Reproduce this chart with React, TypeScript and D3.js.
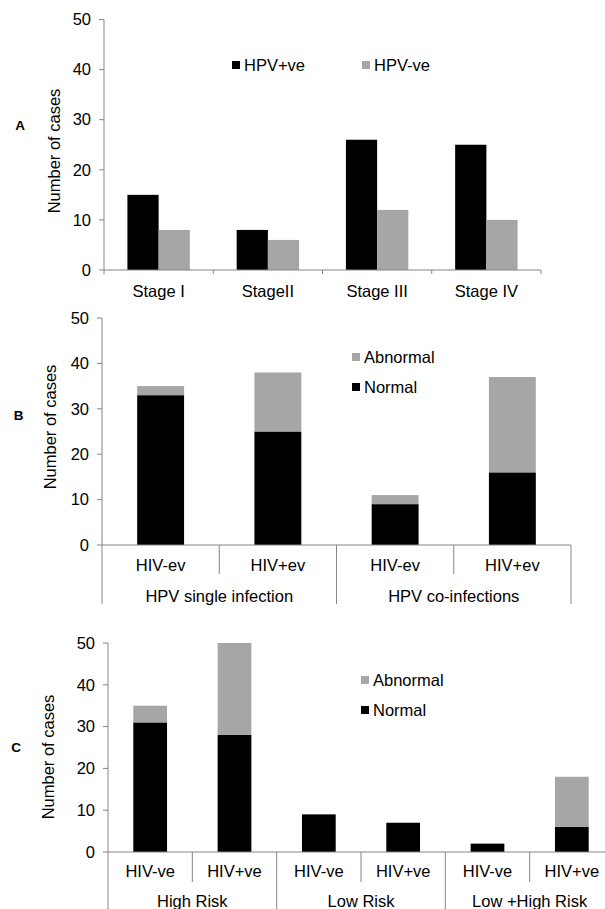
import React from 'react';
import * as d3 from 'd3';

// Panel A: HPV status by stage
const stageCats = ['Stage I', 'StageII', 'Stage III', 'Stage IV'];
const hpvPos = [15, 8, 26, 25];
const hpvNeg = [8, 6, 12, 10];

// Panel B: HIV status within infection type
const hivCatsB = ['HIV-ev', 'HIV+ev', 'HIV-ev', 'HIV+ev'];
const infectionGroups = ['HPV single infection', 'HPV co-infections'];
const normalB = [33, 25, 9, 16];
const abnormalB = [2, 13, 2, 21];

// Panel C: HIV status within HPV risk type
const hivCatsC = ['HIV-ve', 'HIV+ve', 'HIV-ve', 'HIV+ve', 'HIV-ve', 'HIV+ve'];
const riskGroups = ['High Risk', 'Low Risk', 'Low +High Risk'];
const normalC = [31, 28, 9, 7, 2, 6];
const abnormalC = [4, 22, 0, 0, 0, 12];

const yTicks = [0, 10, 20, 30, 40, 50];

const FONT = '"Liberation Sans", Arial, sans-serif';
const FS = 16.5;
const AXIS = '#868686';
const BLACK = '#000000';
const GREY = '#a6a6a6';

type Frame = { x0: number; x1: number; yTop: number; yBot: number };

function YAxis({ f, y }: { f: Frame; y: d3.ScaleLinear<number, number> }) {
  return (
    <g>
      <line x1={f.x0} x2={f.x0} y1={f.yTop} y2={f.yBot} stroke={AXIS} />
      {yTicks.map(t => (
        <g key={t}>
          <line x1={f.x0 - 5} x2={f.x0} y1={y(t)} y2={y(t)} stroke={AXIS} />
          <text x={f.x0 - 13} y={y(t)} dy="0.35em" textAnchor="end" fontSize={FS}>
            {t}
          </text>
        </g>
      ))}
    </g>
  );
}

function YTitle({ x, cy }: { x: number; cy: number }) {
  return (
    <text transform={`translate(${x},${cy}) rotate(-90)`} textAnchor="middle" fontSize={FS}>
      Number of cases
    </text>
  );
}

function PanelLetter({ x, y, label }: { x: number; y: number; label: string }) {
  return (
    <text x={x} y={y} dy="0.35em" textAnchor="middle" fontSize={13.5} fontWeight="bold">
      {label}
    </text>
  );
}

function LegendItem({ x, y, color, label }: { x: number; y: number; color: string; label: string }) {
  return (
    <g>
      <rect x={x} y={y - 4} width={8} height={8} fill={color} />
      <text x={x + 12} y={y} dy="0.35em" fontSize={FS}>
        {label}
      </text>
    </g>
  );
}

function PanelA() {
  const f: Frame = { x0: 104, x1: 541, yTop: 19.5, yBot: 270 };
  const y = d3.scaleLinear().domain([0, 50]).range([f.yBot, f.yTop]);
  const x = d3.scaleBand<string>().domain(stageCats).range([f.x0, f.x1]).padding(0);
  const inner = d3
    .scaleBand<string>()
    .domain(['pos', 'neg'])
    .range([0, x.bandwidth()])
    .paddingInner(0)
    .paddingOuter(0.75);
  const edges = stageCats.map(c => x(c) as number).concat([f.x1]);
  return (
    <g>
      {stageCats.map((c, i) => (
        <g key={c}>
          <rect
            x={(x(c) as number) + (inner('pos') as number)}
            y={y(hpvPos[i])}
            width={inner.bandwidth()}
            height={y(0) - y(hpvPos[i])}
            fill={BLACK}
          />
          <rect
            x={(x(c) as number) + (inner('neg') as number)}
            y={y(hpvNeg[i])}
            width={inner.bandwidth()}
            height={y(0) - y(hpvNeg[i])}
            fill={GREY}
          />
          <text
            x={(x(c) as number) + x.bandwidth() / 2}
            y={f.yBot + 27}
            textAnchor="middle"
            fontSize={FS}
          >
            {c}
          </text>
        </g>
      ))}
      <YAxis f={f} y={y} />
      <line x1={f.x0} x2={f.x1} y1={f.yBot} y2={f.yBot} stroke={AXIS} />
      {edges.map((e, i) => (
        <line key={i} x1={e} x2={e} y1={f.yBot} y2={f.yBot + 4} stroke={AXIS} />
      ))}
      <LegendItem x={232} y={65} color={BLACK} label="HPV+ve" />
      <LegendItem x={362} y={65} color={GREY} label="HPV-ve" />
      <YTitle x={60} cy={151} />
      <PanelLetter x={20} y={125} label="A" />
    </g>
  );
}

type StackProps = {
  f: Frame;
  cats: string[];
  groups: string[];
  normal: number[];
  abnormal: number[];
  row1: number;
  row2: number;
  subDivEnd: number;
  divEnd: number;
};

function StackedPanel({ f, cats, groups, normal, abnormal, row1, row2, subDivEnd, divEnd }: StackProps) {
  const y = d3.scaleLinear().domain([0, 50]).range([f.yBot, f.yTop]);
  const idx = cats.map((_, i) => i);
  const x = d3
    .scaleBand<number>()
    .domain(idx)
    .range([f.x0, f.x1])
    .paddingInner(0.6)
    .paddingOuter(0.3);
  const step = x.step();
  const rows = idx.map(i => ({ i, normal: normal[i], abnormal: abnormal[i] }));
  const series = d3.stack<any>().keys(['normal', 'abnormal'])(rows);
  const colors: Record<string, string> = { normal: BLACK, abnormal: GREY };
  const perGroup = cats.length / groups.length;
  const bandEdge = (i: number) => f.x0 + i * step;
  return (
    <g>
      {series.map(s =>
        s.map((d, j) =>
          d[1] - d[0] > 0 ? (
            <rect
              key={s.key + j}
              x={x(j) as number}
              y={y(d[1])}
              width={x.bandwidth()}
              height={y(d[0]) - y(d[1])}
              fill={colors[s.key]}
            />
          ) : null
        )
      )}
      <YAxis f={f} y={y} />
      <line x1={f.x0} x2={f.x1} y1={f.yBot} y2={f.yBot} stroke={AXIS} />
      {idx.concat([cats.length]).map(i => {
        const major = i % perGroup === 0;
        const ex = bandEdge(i);
        return (
          <line
            key={i}
            x1={ex}
            x2={ex}
            y1={f.yBot}
            y2={major ? divEnd : subDivEnd}
            stroke={AXIS}
          />
        );
      })}
      {cats.map((c, i) => (
        <text key={i} x={bandEdge(i) + step / 2} y={row1} textAnchor="middle" fontSize={FS}>
          {c}
        </text>
      ))}
      {groups.map((g, k) => (
        <text
          key={g}
          x={bandEdge(k * perGroup) + (step * perGroup) / 2}
          y={row2}
          textAnchor="middle"
          fontSize={FS}
        >
          {g}
        </text>
      ))}
    </g>
  );
}

export default function App() {
  const fB: Frame = { x0: 102, x1: 571, yTop: 318, yBot: 545 };
  const fC: Frame = { x0: 108, x1: 614, yTop: 643, yBot: 852 };
  return (
    <svg
      width={605}
      height={909}
      style={{ position: 'absolute', left: 0, top: 0, background: '#fff' }}
      fontFamily={FONT}
    >
      <rect width={605} height={909} fill="#fff" />
      <PanelA />

      <StackedPanel
        f={fB}
        cats={hivCatsB}
        groups={infectionGroups}
        normal={normalB}
        abnormal={abnormalB}
        row1={571}
        row2={602}
        subDivEnd={574}
        divEnd={604}
      />
      <LegendItem x={352} y={357} color={GREY} label="Abnormal" />
      <LegendItem x={352} y={387} color={BLACK} label="Normal" />
      <YTitle x={56} cy={427} />
      <PanelLetter x={18.5} y={415} label="B" />

      <StackedPanel
        f={fC}
        cats={hivCatsC}
        groups={riskGroups}
        normal={normalC}
        abnormal={abnormalC}
        row1={877}
        row2={907}
        subDivEnd={882}
        divEnd={912}
      />
      <LegendItem x={361} y={680} color={GREY} label="Abnormal" />
      <LegendItem x={361} y={710} color={BLACK} label="Normal" />
      <YTitle x={54} cy={757} />
      <PanelLetter x={16} y={747} label="C" />
    </svg>
  );
}
